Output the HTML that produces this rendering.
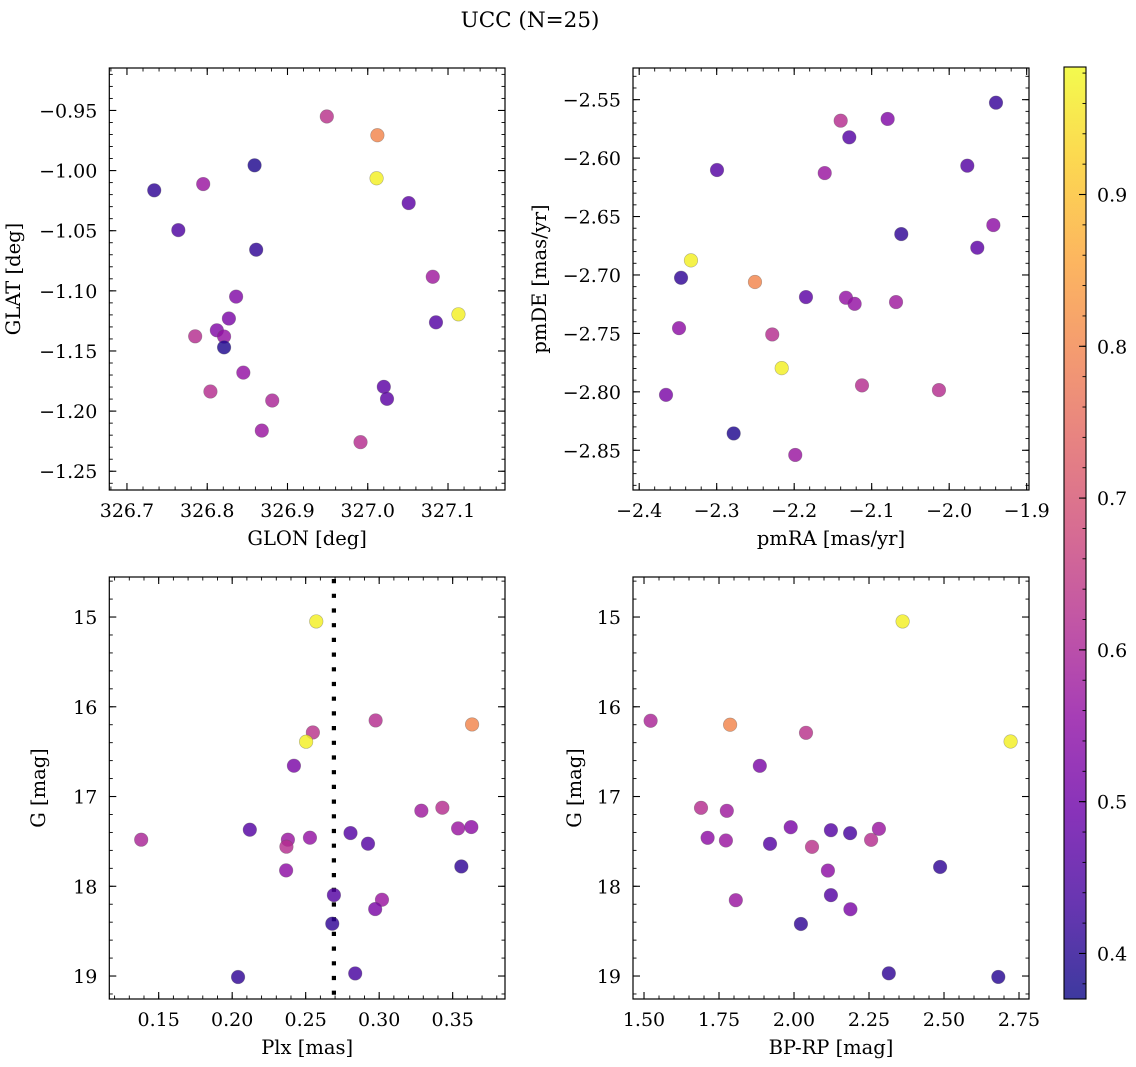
<!DOCTYPE html>
<html><head><meta charset="utf-8"><style>
html,body{margin:0;padding:0;background:#fff;}
svg{display:block;font-family:"DejaVu Serif","Liberation Serif",serif;}
</style></head><body>
<svg id="fig" width="1136" height="1067" viewBox="0 0 1136 1067" xmlns="http://www.w3.org/2000/svg">
<text x="530" y="27" text-anchor="middle" font-size="21.5">UCC (N=25)</text>
</svg>
<script>
// ---- data ----
const glon=[326.949,327.012,327.011,326.859,326.734,326.795,327.051,326.764,326.861,327.081,327.113,327.085,326.836,326.827,326.812,326.821,326.821,326.785,326.804,326.845,326.881,326.868,327.020,327.024,326.991];
const glat=[-0.955,-0.9706,-1.0064,-0.9956,-1.0164,-1.0112,-1.027,-1.0495,-1.0658,-1.0883,-1.1195,-1.1262,-1.1048,-1.123,-1.1328,-1.138,-1.147,-1.1378,-1.1837,-1.168,-1.1912,-1.2162,-1.1798,-1.1898,-1.2258];
const probA=[0.63,0.80,0.97,0.39,0.41,0.57,0.47,0.45,0.41,0.58,0.97,0.46,0.53,0.52,0.53,0.56,0.39,0.62,0.62,0.56,0.60,0.57,0.47,0.47,0.62];

const pmra=[-1.9396,-2.140,-2.0794,-2.1289,-2.2996,-2.1606,-1.9766,-2.0618,-2.3332,-1.943,-1.9637,-2.346,-2.2506,-2.1848,-2.1332,-2.122,-2.0686,-2.3486,-2.2283,-2.2161,-2.1125,-2.0132,-2.3654,-2.2781,-2.1986];
const pmde=[-2.5526,-2.568,-2.5665,-2.5822,-2.6102,-2.6128,-2.6065,-2.665,-2.6875,-2.6573,-2.6767,-2.7024,-2.706,-2.7189,-2.7195,-2.7247,-2.7232,-2.7455,-2.7509,-2.7797,-2.7945,-2.7985,-2.8026,-2.8356,-2.854];
const probB=[0.42,0.62,0.53,0.46,0.46,0.57,0.46,0.41,0.97,0.55,0.47,0.41,0.80,0.47,0.56,0.56,0.58,0.55,0.62,0.97,0.62,0.62,0.52,0.39,0.57];

const plx=[0.2572,0.2549,0.2503,0.2976,0.3632,0.242,0.1381,0.212,0.2379,0.2369,0.2529,0.2367,0.2805,0.2924,0.3287,0.343,0.3537,0.3627,0.3559,0.2692,0.3019,0.2973,0.2681,0.204,0.2837];
const gmagA=[15.049,16.286,16.389,16.152,16.197,16.657,17.481,17.37,17.481,17.559,17.459,17.823,17.407,17.526,17.158,17.125,17.355,17.34,17.779,18.098,18.15,18.254,18.417,19.011,18.971];
const probC=[0.97,0.63,0.97,0.62,0.80,0.52,0.60,0.46,0.57,0.62,0.56,0.55,0.46,0.46,0.58,0.62,0.57,0.55,0.41,0.46,0.57,0.52,0.41,0.41,0.44];
const plxLine=[0.2692];

const bprp=[2.362,1.522,1.787,2.040,2.722,1.886,1.690,1.776,1.989,2.123,2.187,2.283,2.257,1.712,1.773,1.920,2.060,2.113,2.487,2.123,1.806,2.188,2.023,2.316,2.681];
const gmagB=[15.049,16.156,16.20,16.29,16.387,16.658,17.126,17.159,17.342,17.375,17.408,17.36,17.483,17.46,17.49,17.527,17.561,17.825,17.785,18.099,18.155,18.256,18.42,18.97,19.01];
const probD=[0.97,0.60,0.80,0.63,0.97,0.52,0.62,0.58,0.52,0.46,0.44,0.57,0.62,0.55,0.57,0.46,0.63,0.55,0.41,0.46,0.57,0.52,0.41,0.41,0.40];

const ticksA_x=[326.7,326.8,326.9,327.0,327.1];
const ticksA_y=[-0.95,-1.00,-1.05,-1.10,-1.15,-1.20,-1.25];
const ticksB_x=[-2.4,-2.3,-2.2,-2.1,-2.0,-1.9];
const ticksB_y=[-2.55,-2.60,-2.65,-2.70,-2.75,-2.80,-2.85];
const ticksC_x=[0.15,0.20,0.25,0.30,0.35];
const ticksG=[15,16,17,18,19];
const ticksD_x=[1.50,1.75,2.00,2.25,2.50,2.75];
const ticksCbar=[0.4,0.5,0.6,0.7,0.8,0.9];

const vmin=0.370, vmax=0.984;
const plasma=["#0d0887","#41049d","#6a00a8","#8f0da4","#b12a90","#cc4778","#e16462","#f2844b","#fca636","#fcce25","#f0f921"];

// ---- helpers ----
const NS="http://www.w3.org/2000/svg";
const svg=document.getElementById('fig');
const TF=19, LF=19.5;
function mk(tag,attrs,parent){const e=document.createElementNS(NS,tag);for(const k in attrs)e.setAttribute(k,attrs[k]);(parent||svg).appendChild(e);return e;}
function hex(h){return[parseInt(h.substr(1,2),16),parseInt(h.substr(3,2),16),parseInt(h.substr(5,2),16)];}
function cmap(v){let t=(v-vmin)/(vmax-vmin);t=Math.max(0,Math.min(1,t));const s=t*10,i=Math.min(9,Math.floor(s)),f=s-i;const a=hex(plasma[i]),b=hex(plasma[i+1]);return"rgb("+a.map((c,k)=>Math.round(c+(b[k]-c)*f)).join(",")+")";}
function fmt(v,d){const s=Math.abs(v).toFixed(d);return(v<0?"\u2212":"")+s;}

function panel(cfg){
  const g=mk('g',{});
  
  
  const [L,T,R,B]=cfg.box;
  const sx=v=>L+(v-cfg.xr[0])/(cfg.xr[1]-cfg.xr[0])*(R-L);
  const sy=v=>T+(v-cfg.yr[0])/(cfg.yr[1]-cfg.yr[0])*(B-T);
  const frame=mk('rect',{x:L,y:T,width:R-L,height:B-T,fill:'none',stroke:'#000','stroke-width':1.2},g);
  
  
  const lo=Math.min(...cfg.xr),hi=Math.max(...cfg.xr);
  for(let k=Math.ceil(lo/cfg.xm-1e-6);k*cfg.xm<=hi+1e-9;k++){const x=sx(k*cfg.xm);
    mk('line',{x1:x,x2:x,y1:B,y2:B-3.5,stroke:'#000','stroke-width':0.9},g);
    mk('line',{x1:x,x2:x,y1:T,y2:T+3.5,stroke:'#000','stroke-width':0.9},g);}
  const ylo=Math.min(...cfg.yr),yhi=Math.max(...cfg.yr);
  for(let k=Math.ceil(ylo/cfg.ym-1e-6);k*cfg.ym<=yhi+1e-9;k++){const y=sy(k*cfg.ym);
    mk('line',{x1:L,x2:L+3.5,y1:y,y2:y,stroke:'#000','stroke-width':0.9},g);
    mk('line',{x1:R,x2:R-3.5,y1:y,y2:y,stroke:'#000','stroke-width':0.9},g);}
  cfg.xt.forEach(v=>{const x=sx(v);
    mk('line',{x1:x,x2:x,y1:B,y2:B-7,stroke:'#000','stroke-width':1.1},g);
    mk('line',{x1:x,x2:x,y1:T,y2:T+7,stroke:'#000','stroke-width':1.1},g);
    const t=mk('text',{x:x,y:B+27,'text-anchor':'middle','font-size':TF},g);t.textContent=fmt(v,cfg.xd);
    
    });
  cfg.yt.forEach(v=>{const y=sy(v);
    mk('line',{x1:L,x2:L+7,y1:y,y2:y,stroke:'#000','stroke-width':1.1},g);
    mk('line',{x1:R,x2:R-7,y1:y,y2:y,stroke:'#000','stroke-width':1.1},g);
    const t=mk('text',{x:L-12,y:y+7,'text-anchor':'end','font-size':TF},g);t.textContent=fmt(v,cfg.yd);
    
    });
  const xl=mk('text',{x:(L+R)/2,y:B+55,'text-anchor':'middle','font-size':LF},g);xl.textContent=cfg.xl;
  
  
  const yl=mk('text',{x:cfg.ylx,y:(T+B)/2,'text-anchor':'middle','font-size':LF,transform:'rotate(-90 '+cfg.ylx+' '+((T+B)/2)+')'},g);yl.textContent=cfg.yl;
  
  
  if(cfg.vline){cfg.vline.forEach(v=>{const ln=mk('line',{x1:sx(v),x2:sx(v),y1:T+2,y2:B,stroke:'#000','stroke-width':4.2,'stroke-dasharray':'4.2 10.5'},g);
    
    });}
  cfg.x.forEach((v,i)=>{const c=mk('circle',{cx:sx(v),cy:sy(cfg.y[i]),r:6.8,fill:cmap(cfg.c[i]),'fill-opacity':0.82,stroke:'rgba(90,90,90,0.45)','stroke-width':0.6},g);
    
    });
}

panel({name:'glon-glat-panel',box:[109.3,68,505,490],xr:[326.678,327.171],yr:[-0.9147,-1.2656],xt:ticksA_x,yt:ticksA_y,xd:1,yd:2,xm:0.02,ym:0.01,xl:'GLON [deg]',yl:'GLAT [deg]',ylx:20,x:glon,y:glat,c:probA});
panel({name:'pm-panel',box:[633,68,1029,490],xr:[-2.408,-1.897],yr:[-2.5229,-2.884],xt:ticksB_x,yt:ticksB_y,xd:1,yd:2,xm:0.02,ym:0.01,xl:'pmRA [mas/yr]',yl:'pmDE [mas/yr]',ylx:546,x:pmra,y:pmde,c:probB});
panel({name:'plx-g-panel',box:[109.3,577,505,999],xr:[0.1164,0.3856],yr:[14.554,19.256],xt:ticksC_x,yt:ticksG,xd:2,yd:0,xm:0.01,ym:0.2,xl:'Plx [mas]',yl:'G [mag]',ylx:45,x:plx,y:gmagA,c:probC,vline:plxLine});
panel({name:'cmd-panel',box:[633,577,1029,999],xr:[1.4633,2.7833],yr:[14.554,19.256],xt:ticksD_x,yt:ticksG,xd:2,yd:0,xm:0.05,ym:0.2,xl:'BP-RP [mag]',yl:'G [mag]',ylx:581,x:bprp,y:gmagB,c:probD});

// ---- colorbar ----
(function(){
  const L=1064,R=1086,T=67,B=999;
  const defs=mk('defs',{});
  const lg=mk('linearGradient',{id:'cbg',x1:0,y1:1,x2:0,y2:0},defs);
  plasma.forEach((c,i)=>mk('stop',{offset:(i/10),'stop-color':c},lg));
  const g=mk('g',{});
  
  
  mk('rect',{x:L,y:T,width:R-L,height:B-T,fill:'url(#cbg)','fill-opacity':0.8},g);
  mk('rect',{x:L,y:T,width:R-L,height:B-T,fill:'none',stroke:'#000','stroke-width':1.1},g);
  const sy=v=>B-(v-vmin)/(vmax-vmin)*(B-T);
  for(let k=Math.ceil(vmin/0.02);k*0.02<=vmax;k++){const y=sy(k*0.02);mk('line',{x1:R,x2:R-3.5,y1:y,y2:y,stroke:'#000','stroke-width':0.9},g);}
  ticksCbar.forEach(v=>{const y=sy(v);
    mk('line',{x1:R,x2:R-7,y1:y,y2:y,stroke:'#000','stroke-width':1.1},g);
    const t=mk('text',{x:R+11,y:y+7,'font-size':TF},g);t.textContent=v.toFixed(1);
    
    });
})();
</script>
</body></html>
